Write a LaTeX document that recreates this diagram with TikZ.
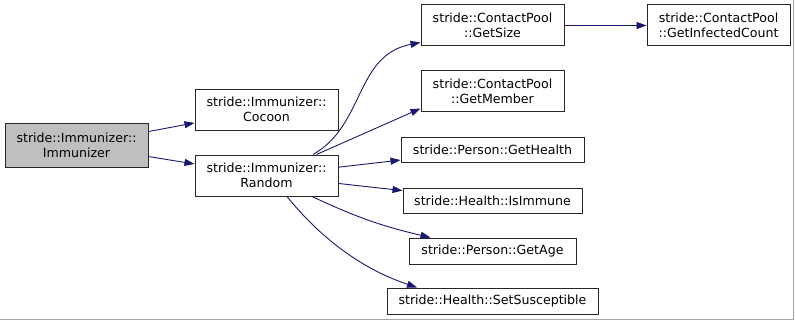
\documentclass[tikz,border=0pt]{standalone}
\usepackage{fontspec}
\setmainfont{DejaVu Sans}
\usetikzlibrary{arrows.meta}
\definecolor{edgeblue}{HTML}{191970}
\definecolor{selfgray}{HTML}{BFBFBF}

\begin{document}
\begin{tikzpicture}[x=1pt,y=-1pt]
	\tikzstyle{every node} = [draw=black!85,shape=rectangle,fill=white,line width=1pt,inner sep=0pt,align=center,font=\fontsize{12.6}{15}\selectfont]
	\tikzstyle{call} = [draw=edgeblue,line width=0.9pt,-{Triangle[length=10pt,width=7pt]}]

	\useasboundingbox (0,0) rectangle (795,321);
	\fill[white] (0,0) rectangle (795,321);
	\draw[black!35,line width=1.2pt] (0,319.5) -- (793.5,319.5) -- (793.5,0);

	\node[fill=selfgray,minimum width=143,minimum height=44] (Immunizer) at (76.5,145) {stride::Immunizer::\\Immunizer};

	\node[minimum width=143,minimum height=41] (Cocoon) at (266.5,109.5) {stride::Immunizer::\\Cocoon};
	\node[minimum width=143,minimum height=41] (Random) at (266.5,175.5) {stride::Immunizer::\\Random};

	\node[minimum width=143,minimum height=41] (GetSize) at (492.5,25.5) {stride::ContactPool\\::GetSize};
	\node[minimum width=143,minimum height=40] (GetMember) at (492.5,91) {stride::ContactPool\\::GetMember};
	\node[minimum width=183,minimum height=25] (GetHealth) at (492.5,149.5) {stride::Person::GetHealth};
	\node[minimum width=179,minimum height=25] (IsImmune) at (492.5,200.5) {stride::Health::IsImmune};
	\node[minimum width=167,minimum height=26] (GetAge) at (492.5,251) {stride::Person::GetAge};
	\node[minimum width=211,minimum height=26] (SetSusceptible) at (492.5,301) {stride::Health::SetSusceptible};

	\node[minimum width=143,minimum height=41] (InfectedCount) at (718.5,25.5) {stride::ContactPool\\::GetInfectedCount};

	\draw [call] (Immunizer) -- (Cocoon);
	\draw [call] (Immunizer) -- (Random);

	\draw [call] ([xshift=46.5pt]Random.north) .. controls (365,125) and (355,55) .. ([yshift=4pt]GetSize.south west);
	\draw [call] ([xshift=50pt]Random.north) -- ([yshift=3pt]GetMember.south west);
	\draw [call] (Random) -- (GetHealth);
	\draw [call] (Random) -- (IsImmune);
	\draw [call] ([xshift=45.5pt]Random.south) to[bend right=6] ([xshift=-62pt]GetAge.north);
	\draw [call] ([xshift=20.5pt]Random.south) .. controls (310,225) and (350,265) .. ([xshift=-75.5pt]SetSusceptible.north);

	\draw [call] (GetSize) -- (InfectedCount);
\end{tikzpicture}
\end{document}
